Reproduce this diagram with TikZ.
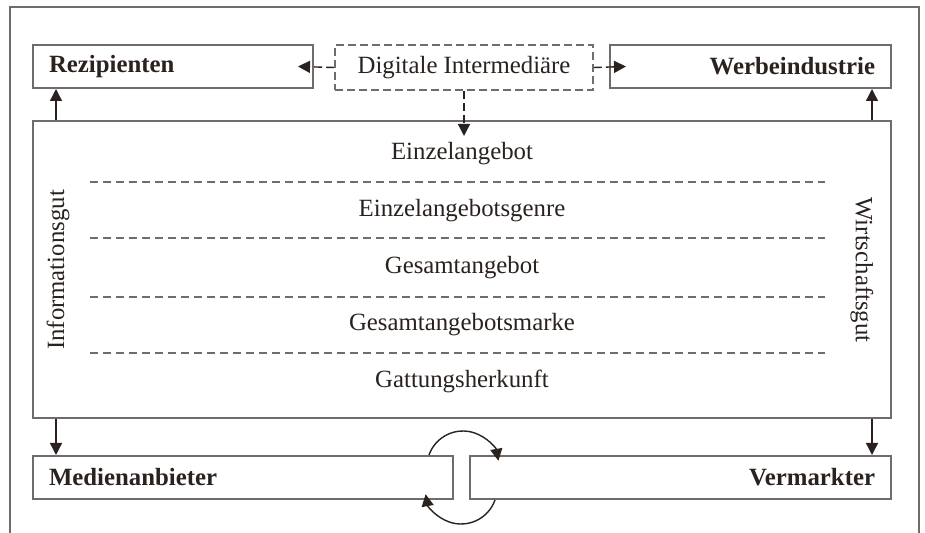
\documentclass[tikz,border=0pt]{standalone}
\usepackage{fontspec}
\setmainfont{Liberation Serif}
\usetikzlibrary{arrows.meta,positioning,calc}
\definecolor{framegray}{RGB}{112,108,106}
\definecolor{inkbrown}{RGB}{42,34,30}

\begin{document}
\begin{tikzpicture}[x=0.5pt, y=-0.5pt,
    every node/.style={font=\fontsize{12.4}{14}\selectfont, text=inkbrown},
    actor/.style={draw=framegray, line width=1pt, minimum height=21.5pt,
        inner xsep=8pt, inner ysep=0pt, font=\fontsize{12.4}{14}\selectfont\bfseries},
    layer/.style={inner sep=0pt},
    sepline/.style={draw=framegray, line width=0.6pt, dash pattern=on 4pt off 2.5pt},
    flow/.style={-{Triangle[length=6pt,width=6pt]}, draw=inkbrown, line width=0.7pt},
    hint/.style={flow, dash pattern=on 4pt off 2pt},
]
    \useasboundingbox (0,0) rectangle (925,533);
    % outer frame
    \draw[framegray, line width=1pt] (10,533) -- (10,7) -- (919,7) -- (919,533);
    % top row
    \node[actor, text width=124pt, align=left] (rez) at (173,66.5) {Rezipienten};
    \node[draw=framegray, line width=0.8pt, dash pattern=on 4pt off 2pt,
        minimum width=129pt, minimum height=22.5pt, inner sep=0pt] (di) at (464,67.5) {Digitale Intermediäre};
    \node[actor, text width=124.5pt, align=right] (wer) at (750.5,66.5) {Werbeindustrie};
    % central box
    \node[draw=framegray, line width=1pt, minimum width=429pt, minimum height=148.5pt, inner sep=0pt] (gut) at (462,269.5) {};
    \foreach \txt/\yy [count=\i] in {Einzelangebot/154, Einzelangebotsgenre/211, Gesamtangebot/268,
        Gesamtangebotsmarke/325, Gattungsherkunft/381} {
        \node[layer] (row\i) at (462,\yy) {\txt};
    }
    \foreach \yy in {182,238,297,353} {
        \draw[sepline] (90,\yy) -- (825,\yy);
    }
    \node[layer, rotate=90] (info) at (58,270) {Informationsgut};
    \node[layer, rotate=-90] (wirt) at (862,270) {Wirtschaftsgut};
    % bottom row
    \node[actor, text width=194pt, align=left] (med) at (243,477.5) {Medienanbieter};
    \node[actor, text width=194.5pt, align=right] (verm) at (680.5,477.5) {Vermarkter};
    % arrows
    \draw[flow] ([xshift=12pt]gut.north west) -- ([xshift=12pt]rez.south west);
    \draw[flow] ([xshift=-10pt]gut.north east) -- ([xshift=-10pt]wer.south east);
    \draw[flow] ([xshift=12pt]gut.south west) -- ([xshift=12pt]med.north west);
    \draw[flow] ([xshift=-10pt]gut.south east) -- ([xshift=-10pt]verm.north east);
    \draw[hint] (di.west) -- ([xshift=-8pt]rez.east);
    \draw[hint] (di.east) -- ([xshift=8.5pt]wer.west);
    \draw[hint] (di.south) -- ([yshift=-8pt]di.south |- gut.north);
    % exchange loop
    \draw[flow] ([xshift=-12.5pt]med.north east) arc[start angle=160.5, end angle=10, radius=18pt];
    \draw[flow] ([xshift=13pt]verm.south west) arc[start angle=-19.5, end angle=-170, radius=18pt];
\end{tikzpicture}
\end{document}
